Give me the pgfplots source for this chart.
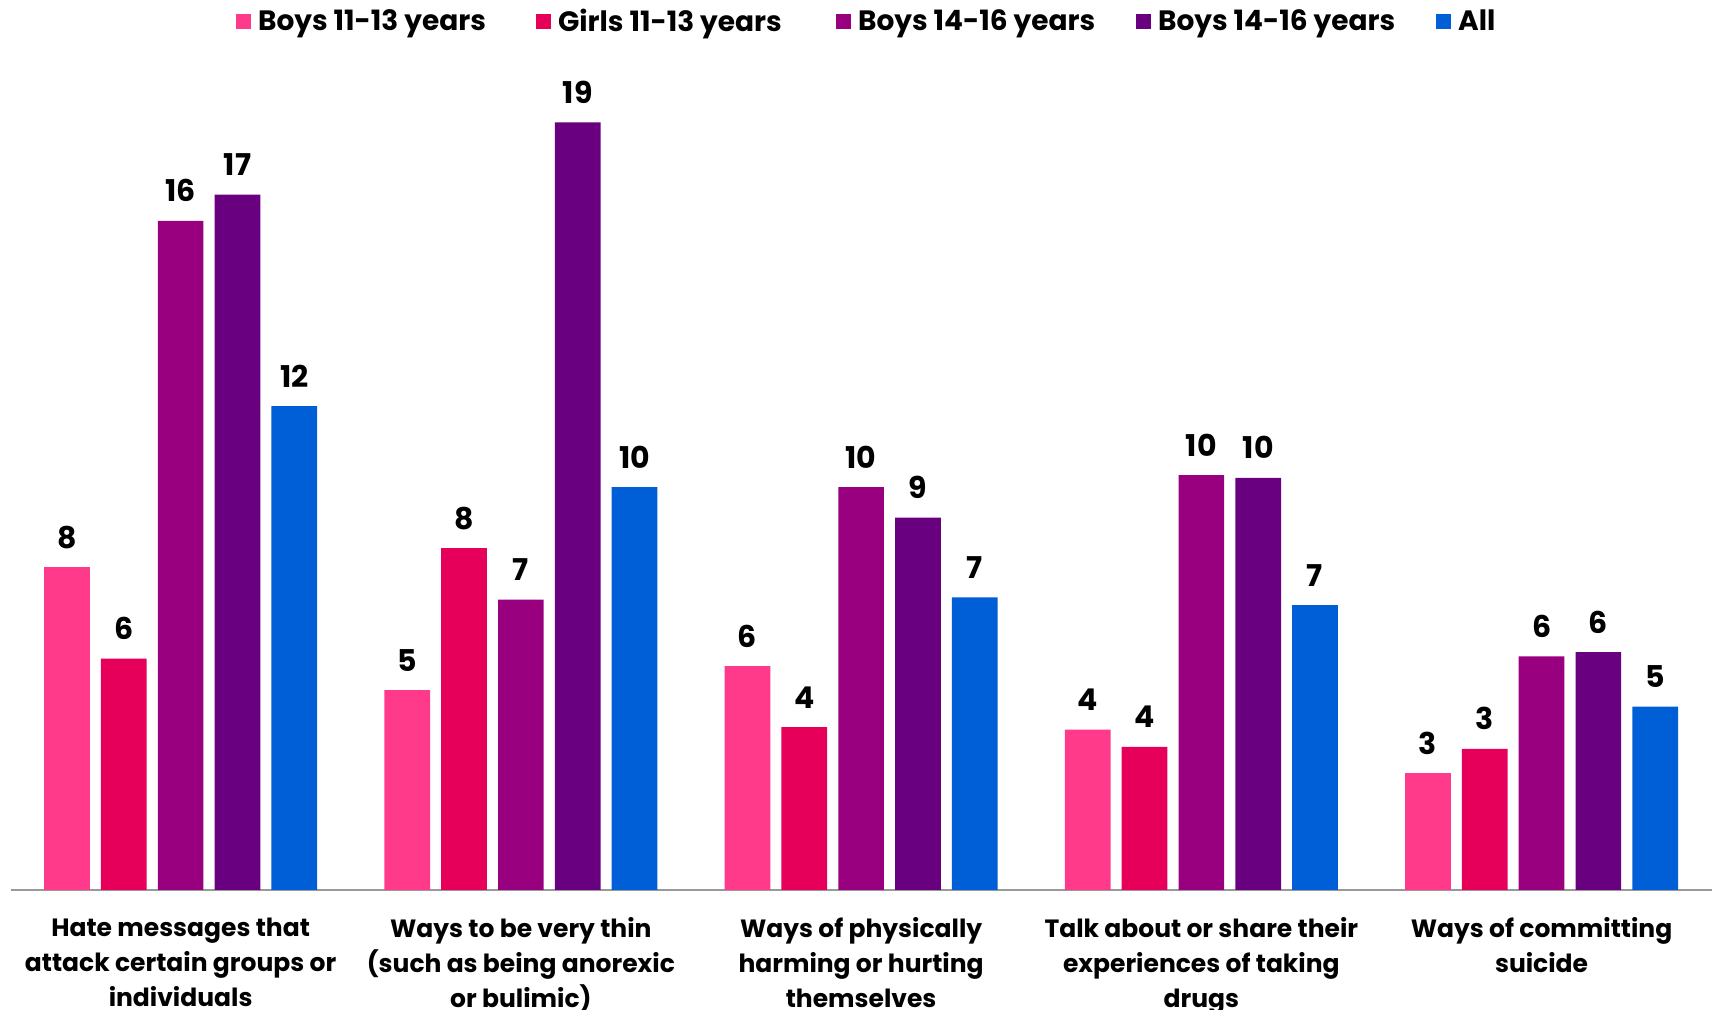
\documentclass[border=0pt]{standalone}
\usepackage{pgfplots}
\pgfplotsset{compat=1.18}
\usepackage{fontspec}
\setmainfont{Poppins}
\definecolor{cBoysA}{HTML}{FF3A8A}
\definecolor{cGirlsA}{HTML}{E6005A}
\definecolor{cBoysB}{HTML}{990080}
\definecolor{cBoysC}{HTML}{680080}
\definecolor{cAll}{HTML}{005ED6}
\begin{document}
\begin{tikzpicture}
\begin{axis}[
  at={(0,0)}, anchor=south west,
  scale only axis,
  width=850.6pt, height=444.4pt,
  xmin=-0.5, xmax=4.5, ymin=0, ymax=22,
  ybar=5.55pt, bar width=22.85pt,
  axis x line*=bottom, axis y line=none,
  x axis line style={draw=black!40, line width=1pt},
  xtick={0,1,2,3,4}, major tick length=0pt,
  xticklabels={{Hate messages that\\attack certain groups or\\individuals},
    {Ways to be very thin\\(such as being anorexic\\or bulimic)},
    {Ways of physically\\harming or hurting\\themselves},
    {Talk about or share their\\experiences of taking\\drugs},
    {Ways of committing\\suicide}},
  xticklabel style={align=center, font=\fontsize{12.5}{17.5}\selectfont\bfseries, yshift=-10.4pt},
  point meta=explicit symbolic,
  nodes near coords,
  every node near coord/.append style={font=\fontsize{15}{17}\selectfont\bfseries, anchor=base, inner sep=0pt, yshift=9.5pt},
  legend columns=-1,
  legend image code/.code={\fill[#1] (0pt,-3.75pt) rectangle (7.5pt,3.75pt);},
  legend style={draw=none, fill=none, inner sep=0pt, at={(0.1324,0.9766)}, anchor=west,
    font=\fontsize{14}{16}\selectfont\bfseries,
    nodes={inner sep=0pt},
    /tikz/every odd column/.append style={column sep=3.5pt},
    /tikz/every even column/.append style={column sep=9pt}},
]
\addplot[fill=cBoysA, draw=none] coordinates {(0,7.99) [8] (1,4.95) [5] (2,5.54) [6] (3,3.97) [4] (4,2.89) [3]};
\addlegendentry{\makebox[130pt][l]{Boys 11-13 years}}
\addplot[fill=cGirlsA, draw=none] coordinates {(0,5.73) [6] (1,8.46) [8] (2,4.03) [4] (3,3.54) [4] (4,3.49) [3]};
\addlegendentry{\makebox[130pt][l]{Girls 11-13 years}}
\addplot[fill=cBoysB, draw=none] coordinates {(0,16.56) [16] (1,7.19) [7] (2,9.97) [10] (3,10.27) [10] (4,5.78) [6]};
\addlegendentry{\makebox[130pt][l]{Boys 14-16 years}}
\addplot[fill=cBoysC, draw=none] coordinates {(0,17.21) [17] (1,19.0) [19] (2,9.22) [9] (3,10.2) [10] (4,5.89) [6]};
\addlegendentry{\makebox[130pt][l]{Boys 14-16 years}}
\addplot[fill=cAll, draw=none] coordinates {(0,11.98) [12] (1,9.97) [10] (2,7.24) [7] (3,7.05) [7] (4,4.54) [5]};
\addlegendentry{All}
\end{axis}
\pgfresetboundingbox
\path[use as bounding box] (-5.25pt,-60pt) rectangle (850.75pt,445pt);
\end{tikzpicture}
\end{document}
